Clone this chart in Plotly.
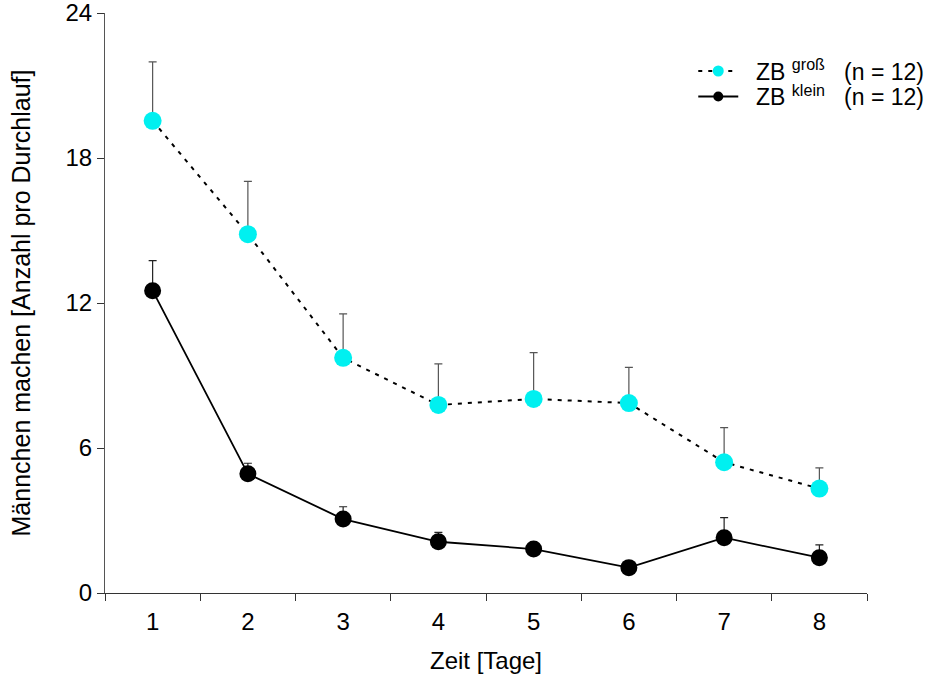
import plotly.graph_objects as go

tage = [1, 2, 3, 4, 5, 6, 7, 8]
gross_mean = [19.54, 14.85, 9.73, 7.78, 8.03, 7.86, 5.41, 4.32]
gross_err = [2.44, 2.18, 1.82, 1.70, 1.92, 1.48, 1.43, 0.86]
klein_mean = [12.51, 4.93, 3.06, 2.12, 1.82, 1.05, 2.29, 1.46]
klein_err = [1.24, 0.44, 0.51, 0.39, 0.25, 0.20, 0.83, 0.53]
y_ticks = [0, 6, 12, 18, 24]
names = ["\u00a0\u00a0ZB <sup>groß</sup>\u00a0\u00a0\u00a0(n = 12)",
         "\u00a0\u00a0ZB <sup>klein</sup>\u00a0\u00a0\u00a0(n = 12)"]

font = "Liberation Sans, Arial, sans-serif"
cyan = "#00f0f0"
gross_line = dict(color="black", width=2, dash="4px,6px")
klein_line = dict(color="black", width=1.8)

fig = go.Figure()
fig.add_trace(go.Scatter(
    x=tage, y=gross_mean, mode="lines+markers", showlegend=False,
    line=gross_line,
    marker=dict(color=cyan, size=18, line=dict(width=0)),
    error_y=dict(type="data", array=gross_err, arrayminus=[0]*8, symmetric=False,
                 color="#555", thickness=1.2, width=4),
))
fig.add_trace(go.Scatter(
    x=tage, y=klein_mean, mode="lines+markers", showlegend=False,
    line=klein_line,
    marker=dict(color="black", size=17, line=dict(width=0)),
    error_y=dict(type="data", array=klein_err, arrayminus=[0]*8, symmetric=False,
                 color="#222", thickness=1.2, width=4),
))
# legend entries (smaller symbols as in the reference), one legend per row
fig.add_trace(go.Scatter(x=[None], y=[None], mode="lines+markers", name=names[0],
                         line=gross_line, marker=dict(color=cyan, size=11), legend="legend"))
fig.add_trace(go.Scatter(x=[None], y=[None], mode="lines+markers", name=names[1],
                         line=klein_line, marker=dict(color="black", size=10), legend="legend2"))

legend_common = dict(xanchor="left", yanchor="top", bgcolor="rgba(0,0,0,0)",
                     font=dict(size=23), itemwidth=40)

fig.update_layout(
    width=941, height=688,
    margin=dict(l=105, r=74, t=13, b=95, autoexpand=False),
    plot_bgcolor="white", paper_bgcolor="white",
    font=dict(family=font, size=24, color="black"),
    showlegend=True,
    legend=dict(x=0.772, y=0.937, **legend_common),
    legend2=dict(x=0.772, y=0.893, **legend_common),
    xaxis=dict(
        range=[0.5, 8.5], tickmode="array", tickvals=tage, automargin=False,
        ticktext=[str(t) for t in tage], ticks="", showgrid=False, zeroline=False,
        showline=True, linecolor="#333", linewidth=1,
        tickfont=dict(size=24), ticklabelstandoff=7,
        minor=dict(ticks="outside", tick0=0.5, dtick=1, ticklen=7, tickcolor="#333", showgrid=False),
        title=dict(text="Zeit [Tage]", font=dict(size=24), standoff=18),
    ),
    yaxis=dict(
        range=[0, 24], tickmode="array", tickvals=y_ticks, ticks="outside", ticklen=7,
        automargin=False,
        tickcolor="#333", showgrid=False, zeroline=False,
        showline=True, linecolor="#555", linewidth=1.2,
        tickfont=dict(size=24), ticklabeloverflow="allow",
        title=dict(text="Männchen machen [Anzahl pro Durchlauf]", font=dict(size=25), standoff=27),
    ),
)

fig.write_html("out.html", config={"displayModeBar": False},
               post_script="document.body.style.margin='0px';")
